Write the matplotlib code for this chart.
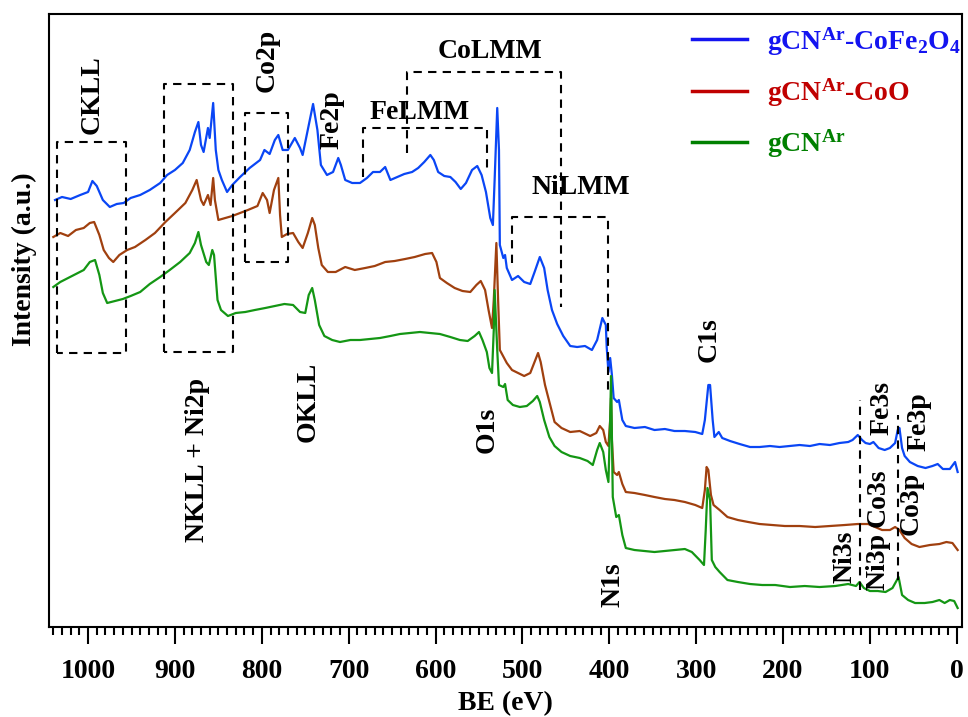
import matplotlib
matplotlib.use('Agg')
import matplotlib.pyplot as plt
from matplotlib.lines import Line2D

plt.rcParams['font.family'] = ['Liberation Serif', 'DejaVu Serif']
plt.rcParams['font.weight'] = 'bold'
plt.rcParams['font.size'] = 20
plt.rcParams['mathtext.fontset'] = 'custom'
plt.rcParams['mathtext.rm'] = 'Liberation Serif:bold'
plt.rcParams['mathtext.bf'] = 'Liberation Serif:bold'
plt.rcParams['mathtext.it'] = 'Liberation Serif:bold:italic'

# Survey spectra (BE in eV, intensity in arbitrary units, offset stacked)
be_cofe = [1038, 1030, 1020, 1009, 1000, 995, 990, 983, 975, 967, 959, 951, 940, 929, 917, 909,
           900, 891, 883, 877, 873, 870, 867, 862, 860, 856, 853, 850, 846, 840, 834, 825, 814,
           802, 797, 791, 785, 781, 776, 770, 762, 756, 753, 746, 741, 736, 732, 725, 718, 712,
           709, 704, 696, 687, 679, 672, 664, 658, 652, 644, 636, 627, 620, 613, 606, 602, 597,
           590, 583, 577, 571, 565, 558, 552, 547, 542, 537, 534, 532, 529, 527, 526, 522, 520,
           518, 512, 505, 498, 491, 486, 480, 475, 471, 466, 460, 453, 445, 437, 428, 420, 414,
           408, 404, 403, 401, 399, 397, 395, 391, 389, 385, 381, 371, 359, 348, 336, 325, 313,
           301, 293, 290, 286, 284, 281, 279, 274, 270, 261, 250, 238, 227, 215, 204, 192, 181,
           169, 158, 146, 135, 125, 120, 114, 109, 105, 100, 96, 90, 83, 77, 71, 68, 66, 63, 60,
           54, 45, 36, 28, 22, 16, 8, 2, -1]
int_cofe = [427, 430, 428, 432, 435, 446, 441, 427, 420, 423, 424, 429, 432, 437, 444, 452,
            457, 464, 477, 495, 505, 482, 475, 499, 489, 524, 477, 457, 447, 435, 442, 450, 459,
            467, 477, 473, 487, 492, 477, 477, 489, 479, 472, 502, 523, 497, 462, 452, 455, 469,
            462, 447, 444, 444, 449, 455, 455, 460, 447, 450, 453, 455, 459, 465, 472, 467, 455,
            451, 450, 445, 438, 444, 457, 461, 452, 435, 409, 402, 447, 519, 477, 382, 369, 372,
            359, 347, 351, 345, 343, 355, 370, 359, 337, 317, 303, 291, 281, 280, 281, 277, 287,
            309, 302, 280, 255, 269, 252, 229, 225, 227, 207, 201, 199, 200, 197, 198, 196, 196,
            195, 193, 207, 242, 242, 207, 190, 195, 189, 186, 183, 180, 180, 181, 180, 181, 182,
            181, 183, 182, 184, 185, 187, 192, 187, 184, 183, 185, 179, 177, 179, 184, 197, 199,
            179, 171, 165, 161, 159, 161, 163, 158, 158, 165, 155]

be_coo = [1040, 1032, 1023, 1014, 1005, 998, 993, 987, 982, 976, 971, 964, 955, 946, 934, 923,
          911, 900, 888, 880, 875, 870, 867, 862, 859, 856, 854, 850, 842, 834, 825, 816, 805,
          799, 794, 791, 786, 781, 779, 777, 771, 764, 758, 753, 747, 742, 739, 735, 731, 724,
          715, 704, 693, 681, 670, 658, 647, 635, 624, 612, 604, 599, 595, 587, 578, 569, 560,
          553, 548, 543, 539, 535, 533, 530, 528, 526, 521, 518, 512, 505, 498, 491, 486, 482,
          479, 474, 468, 463, 455, 445, 434, 422, 415, 411, 407, 404, 401, 399, 398, 397, 395,
          391, 389, 385, 381, 371, 359, 348, 336, 325, 313, 301, 293, 290, 288, 286, 283, 280,
          273, 264, 252, 240, 227, 213, 198, 181, 163, 146, 129, 114, 102, 94, 86, 77, 71, 66,
          60, 52, 43, 31, 20, 12, 5, -1]
int_coo = [390, 394, 391, 397, 399, 404, 405, 392, 377, 369, 365, 372, 377, 380, 387, 394,
           405, 414, 424, 437, 447, 427, 422, 432, 422, 449, 427, 407, 409, 411, 414, 417, 421,
           434, 427, 414, 437, 449, 412, 390, 393, 394, 385, 379, 394, 409, 402, 379, 362, 355,
           355, 360, 357, 359, 361, 365, 366, 368, 370, 373, 374, 365, 349, 344, 339, 336, 335,
           342, 346, 337, 317, 299, 327, 384, 327, 277, 269, 264, 257, 254, 251, 254, 265, 274,
           265, 242, 222, 205, 199, 195, 196, 191, 194, 201, 197, 185, 181, 207, 229, 187, 155,
           152, 155, 143, 135, 134, 132, 130, 128, 127, 125, 122, 119, 137, 160, 157, 132, 122,
           117, 110, 107, 105, 103, 102, 101, 101, 100, 101, 102, 103, 103, 100, 97, 97, 100, 97,
           89, 83, 80, 82, 83, 85, 84, 77]

be_gcn = [1040, 1032, 1023, 1014, 1005, 998, 992, 987, 983, 978, 969, 960, 951, 940, 929, 917,
          906, 894, 883, 877, 873, 870, 864, 861, 857, 855, 851, 847, 839, 830, 819, 808, 796,
          785, 774, 764, 756, 750, 746, 742, 739, 734, 728, 719, 710, 698, 687, 675, 664, 652,
          641, 629, 618, 606, 595, 583, 572, 563, 555, 550, 546, 541, 538, 535, 533, 532, 529,
          527, 522, 520, 517, 511, 503, 495, 488, 483, 480, 475, 469, 463, 455, 445, 434, 425,
          419, 414, 411, 407, 404, 401, 399, 398, 397, 396, 392, 389, 385, 381, 371, 359, 348,
          336, 325, 313, 305, 296, 291, 289, 287, 284, 282, 278, 273, 264, 252, 238, 224, 209,
          192, 175, 158, 140, 125, 116, 112, 107, 100, 91, 82, 74, 69, 67, 63, 56, 48, 37, 28,
          20, 14, 8, 3, -1]
int_gcn = [340, 345, 349, 353, 357, 365, 367, 352, 334, 324, 326, 328, 331, 335, 343, 350,
           357, 365, 374, 384, 395, 382, 365, 362, 377, 372, 327, 317, 311, 314, 315, 317, 319,
           321, 323, 322, 315, 314, 332, 339, 327, 302, 291, 287, 285, 287, 287, 288, 289, 291,
           293, 294, 295, 294, 293, 290, 287, 286, 291, 295, 287, 275, 259, 254, 297, 337, 277,
           242, 240, 243, 227, 222, 220, 221, 226, 231, 225, 207, 190, 181, 175, 171, 169, 166,
           162, 177, 184, 175, 157, 145, 207, 251, 187, 130, 110, 112, 92, 79, 77, 76, 75,
           76, 77, 78, 75, 67, 62, 97, 139, 127, 67, 60, 55, 47, 45, 43, 42, 42,
           40, 41, 40, 41, 43, 41, 45, 39, 36, 36, 35, 39, 47, 50, 32, 27, 24, 24, 25,
           27, 24, 27, 26, 19]

series_labels = [r'gCN$^{\mathrm{Ar}}$-CoFe$_{\mathrm{2}}$O$_{\mathrm{4}}$',
                 r'gCN$^{\mathrm{Ar}}$-CoO', r'gCN$^{\mathrm{Ar}}$']

# Dashed region markers (BE, intensity) and peak labels
boxes = [
    ([1036, 1036, 956, 956, 1036], [274, 485, 485, 274, 274]),
    ([912.5, 912.5, 833, 833, 912.5], [275, 543, 543, 275, 275]),
    ([819, 819, 770, 770, 819], [365, 514, 514, 365, 365]),
    ([683.5, 683.5, 541, 541], [450, 499, 499, 454]),
    ([633, 633, 456, 456], [474, 555, 555, 320]),
    ([512, 512, 402, 402], [364, 410, 410, 234]),
    ([111.6, 111.6], [37, 227]),
    ([68, 68], [47, 212]),
]
peak_names = ['CKLL', 'NKLL + Ni2p', 'Co2p', 'Fe2p', 'FeLMM', 'CoLMM', 'NiLMM', 'OKLL', 'O1s',
              'N1s', 'C1s', 'Fe3s', 'Fe3p', 'Co3s', 'Co3p', 'Ni3s', 'Ni3p']
peak_be = [995, 874.5, 794, 719, 618, 537, 433, 747, 541, 396, 285, 86, 43, 91, 52, 129, 91]
peak_int = [532, 167, 567, 507, 514, 575, 439, 225, 197, 42, 287, 219, 205, 129, 124, 70, 66]
peak_rot = [90, 90, 90, 90, 0, 0, 0, 90, 90, 90, 90, 90, 90, 90, 90, 90, 90]

fig = plt.figure(figsize=(9.68, 7.17), dpi=100)
ax = fig.add_axes([0.0506, 0.1255, 0.9432, 0.855])

ax.plot(be_cofe, int_cofe, color='#0a46f5', lw=1.6)
ax.plot(be_coo, int_coo, color='#a0400f', lw=1.6)
ax.plot(be_gcn, int_gcn, color='#149614', lw=1.6)

for bx, by in boxes:
    ax.plot(bx, by, color='black', lw=1.5, ls=(0, (4, 3)))

for name, x, y, r in zip(peak_names, peak_be, peak_int, peak_rot):
    ax.text(x, y, name, rotation=r, ha='center', va='center', fontsize=20, fontweight='bold')

handles = [Line2D([], [], color=c, lw=2.5) for c in ['#1414f0', '#c00000', '#008000']]
ax.legend(handles, series_labels, loc='upper left', bbox_to_anchor=(0.704, 0.982),
          frameon=False, borderpad=0, borderaxespad=0, handlelength=2.0, handletextpad=0.7,
          labelspacing=0.68, labelcolor=['#1414f0', '#c00000', '#008000'], fontsize=20)

ax.set_xlim(1045, -6)
ax.set_ylim(0, 613)
ax.set_yticks([])
ax.set_xticks(range(0, 1001, 100))
ax.set_xticks(range(0, 1041, 10), minor=True)
ax.tick_params(axis='x', which='major', direction='out', length=12, width=1.5, pad=11, labelsize=20)
ax.tick_params(axis='x', which='minor', direction='out', length=6, width=1.5)
for s in ax.spines.values():
    s.set_linewidth(1.5)
ax.set_xlabel('BE (eV)', fontsize=20, fontweight='bold', labelpad=5)
ax.set_ylabel('Intensity (a.u.)', fontsize=20, fontweight='bold')
ax.yaxis.set_label_coords(-0.013, 0.6)

fig.savefig('out.png', dpi=100)
